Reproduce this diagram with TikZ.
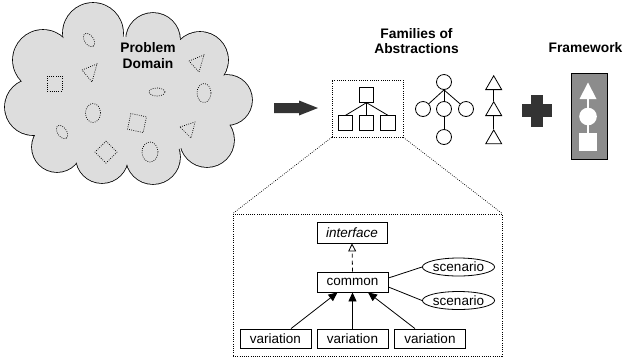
\documentclass[tikz,border=0pt]{standalone}
\usepackage{fontspec}
\setmainfont{Liberation Sans}
\usetikzlibrary{arrows.meta,shapes.geometric,calc}
\definecolor{cloudfill}{HTML}{DDDDDD}
\definecolor{darkfill}{HTML}{333333}
\definecolor{fwgray}{HTML}{8C8C8C}
\begin{document}
\begin{tikzpicture}[x=1pt,y=-1pt,
  dots/.style={line width=0.7pt,dash pattern=on 0.8pt off 1.4pt},
  txt/.style={font=\fontsize{13.5}{15}\selectfont},
  title/.style={font=\fontsize{13.8}{15.5}\selectfont\bfseries,align=center,inner sep=0},
  umlbox/.style={draw,line width=0.8pt,inner sep=0,txt,minimum height=19pt,minimum width=71pt},
  scen/.style={draw,ellipse,line width=0.8pt,inner sep=0,txt,minimum height=18pt,minimum width=71pt},
  sq/.style={draw,line width=0.8pt,inner sep=0,minimum size=14.5pt},
  circ/.style={draw,circle,line width=0.8pt,inner sep=0,minimum size=15pt},
  tri/.style={draw,regular polygon,regular polygon sides=3,line width=0.8pt,inner sep=0,minimum size=18.5pt},
  link/.style={line width=0.8pt},
  inh/.style={line width=0.8pt,-{Triangle[width=8pt,length=9pt]}},
]
\useasboundingbox (0,0) rectangle (624,360);

% ---------- cloud ----------
\foreach \p/\r in {{93,33}/30,{153,40}/27,{200,60}/28,{227,100}/25,{207,140}/27,{153,157}/27,{102,157}/26,{57,147}/25,{33,107}/28,{43,60}/30}
  \draw[line width=1.6pt] (\p) circle (\r pt);
\fill[cloudfill] (93,33) -- (153,40) -- (200,60) -- (227,100) -- (207,140) -- (153,157) -- (102,157) -- (57,147) -- (33,107) -- (43,60) -- cycle;
\foreach \p/\r in {{93,33}/30,{153,40}/27,{200,60}/28,{227,100}/25,{207,140}/27,{153,157}/27,{102,157}/26,{57,147}/25,{33,107}/28,{43,60}/30}
  \fill[cloudfill] (\p) circle (\r pt);

\node[title] (pd) at (148,55.5) {Problem\\Domain};

% dotted shapes in the cloud
\draw[dots,rotate around={-55:(89,40)}] (89,40) ellipse [x radius=7.5pt,y radius=4.5pt];
\draw[dots,rotate around={-55:(62,132)}] (62,132) ellipse [x radius=7.5pt,y radius=4.5pt];
\draw[dots] (157,92) ellipse [x radius=8pt,y radius=4pt];
\draw[dots] (204,93) ellipse [x radius=7pt,y radius=9.5pt];
\draw[dots] (93,113) ellipse [x radius=7.5pt,y radius=9.5pt];
\draw[dots] (150,152) ellipse [x radius=8pt,y radius=10pt];
\draw[dots] (47,76) rectangle (62,91);
\draw[dots,rotate around={-12:(137,123)}] (129,115) rectangle (145,131);
\draw[dots] (106,141) -- (117,152) -- (106,163) -- (95,152) -- cycle;
\draw[dots] (82,70) -- (97,64) -- (92,82) -- cycle;
\draw[dots] (189,61) -- (204,55) -- (199,72) -- cycle;
\draw[dots] (180,127) -- (195,122) -- (191,138) -- cycle;

% ---------- big arrow ----------
\fill[darkfill] (274,103) -- (299,103) -- (299,100.5) -- (318,108) -- (299,115.5) -- (299,113) -- (274,113) -- cycle;

% ---------- families ----------
\node[title] (fam) at (416.5,41) {Families of\\Abstractions};
\node[draw,dots,minimum width=71pt,minimum height=57pt,inner sep=0] (fbox) at (367.5,108.5) {};
\node[sq] (s0) at (366.5,95) {};
\node[sq] (s1) at (345.5,123) {};
\node[sq] (s2) at (366.5,123) {};
\node[sq] (s3) at (388,123) {};
\foreach \s in {s1,s2,s3} \draw[link] (s0.south) -- (\s.north);

\node[circ] (c0) at (444,82) {};
\node[circ] (c1) at (423,109) {};
\node[circ] (c2) at (444,109) {};
\node[circ] (c3) at (466,109) {};
\node[circ] (c4) at (444,137) {};
\foreach \c in {c1,c2,c3} \draw[link] (c0.south) -- (\c);
\draw[link] (c2) -- (c4);

\node[tri] (t1) at (493.7,85.0) {};
\node[tri] (t2) at (493.7,111.0) {};
\node[tri] (t3) at (493.7,139.2) {};
\draw[link] (t1.south) -- (t2.north);
\draw[link] (t2.south) -- (t3.north);

% ---------- plus ----------
\fill[darkfill] (521.7,103.5) rectangle (551.7,117);
\fill[darkfill] (530.7,95) rectangle (542.7,126.5);

% ---------- framework ----------
\node[title] (fw) at (585.5,48) {Framework};
\node[draw,fill=fwgray,line width=0.8pt,minimum width=36pt,minimum height=86pt,inner sep=0] (fwbox) at (589,116) {};
\draw[white,line width=2.5pt] (588,92) -- (588,140);
\fill[white] (579.5,99) -- (596.5,99) -- (588,82.5) -- cycle;
\fill[white] (588,116.5) circle (8.8pt);
\fill[white] (579,133) rectangle (597,151);

% ---------- zoom box ----------
\node[draw,dots,minimum width=269pt,minimum height=142pt,inner sep=0] (zbox) at (367.5,285) {};
\draw[dots] (fbox.south west) -- (zbox.north west);
\draw[dots] (fbox.south east) -- (zbox.north east);

\node[umlbox,minimum width=70pt,minimum height=21pt,font=\fontsize{13.5}{15}\selectfont\itshape] (iface) at (352,232.5) {interface};
\node[umlbox,minimum height=20pt] (common) at (352.5,282) {common};
\node[umlbox] (v1) at (275.5,338.5) {variation};
\node[umlbox] (v2) at (352.5,338.5) {variation};
\node[umlbox] (v3) at (430,338.5) {variation};
\node[scen] (sc1) at (458.5,267) {scenario};
\node[scen] (sc2) at (458.5,300.5) {scenario};

\draw[line width=0.8pt,dash pattern=on 4pt off 3pt,-{Triangle[open,width=8pt,length=8pt,fill=white]}] (common.north) -- (iface.south);
\draw[inh] ([xshift=15.5pt]v1.north) -- ([xshift=-15pt]common.south);
\draw[inh] (v2.north) -- (common.south);
\draw[inh] ([xshift=-15pt]v3.north) -- ([xshift=15.5pt]common.south);
\draw[link] ([yshift=4pt]common.east) -- (sc1.west);
\draw[link] ([yshift=-5pt]common.east) -- (sc2.west);
\end{tikzpicture}
\end{document}
